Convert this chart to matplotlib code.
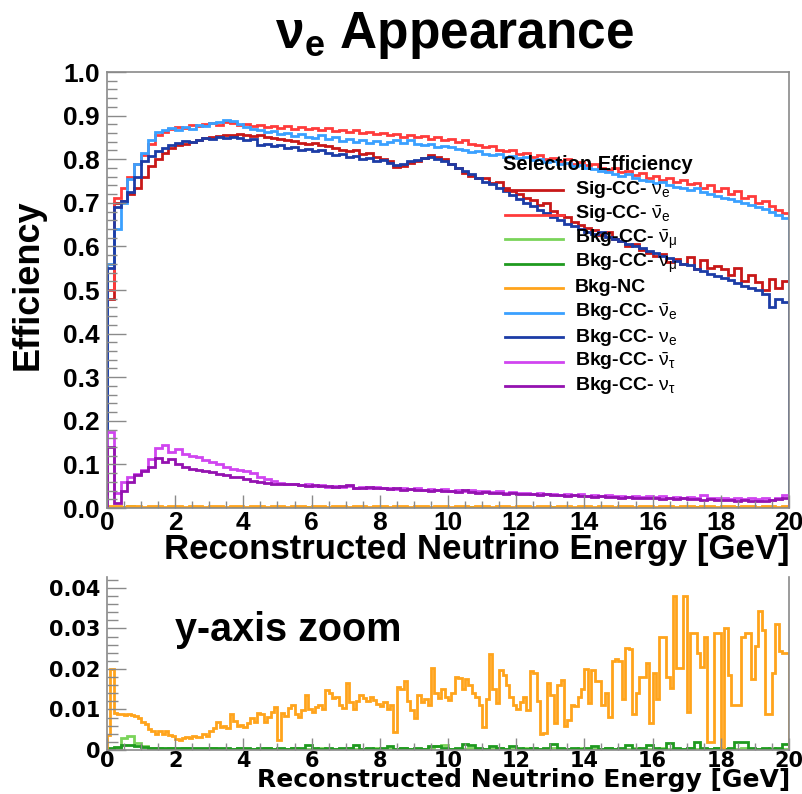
import numpy as np
import matplotlib
matplotlib.use('Agg')
import matplotlib.pyplot as plt
from matplotlib.lines import Line2D
from matplotlib.ticker import MultipleLocator, FormatStrFormatter, FuncFormatter

plt.rcParams['font.family'] = ['Liberation Sans', 'DejaVu Sans']
plt.rcParams['mathtext.fontset'] = 'custom'
plt.rcParams['mathtext.rm'] = 'Liberation Sans'
plt.rcParams['mathtext.it'] = 'Liberation Sans'
plt.rcParams['mathtext.bf'] = 'Liberation Sans:bold'

e_max = 20.0

# efficiency per 0.2 GeV bin, 0-20 GeV
sig_cc_nue = [
    0.480, 0.700, 0.705, 0.720, 0.735, 0.760, 0.785, 0.800, 0.815, 0.825,
    0.832, 0.836, 0.840, 0.843, 0.848, 0.850, 0.853, 0.856, 0.855, 0.858,
    0.855, 0.853, 0.856, 0.851, 0.849, 0.847, 0.845, 0.842, 0.838, 0.836,
    0.838, 0.832, 0.830, 0.826, 0.822, 0.818, 0.820, 0.812, 0.815, 0.805,
    0.800, 0.795, 0.782, 0.785, 0.792, 0.797, 0.803, 0.810, 0.804, 0.800,
    0.790, 0.780, 0.768, 0.762, 0.758, 0.756, 0.745, 0.748, 0.735, 0.728,
    0.720, 0.712, 0.706, 0.695, 0.700, 0.682, 0.672, 0.668, 0.655, 0.650,
    0.642, 0.638, 0.626, 0.632, 0.616, 0.612, 0.600, 0.605, 0.592, 0.585,
    0.578, 0.582, 0.565, 0.570, 0.560, 0.575, 0.548, 0.568, 0.550, 0.555,
    0.548, 0.535, 0.550, 0.520, 0.535, 0.518, 0.500, 0.525, 0.505, 0.520]

sig_cc_nuebar = [
    0.500, 0.710, 0.735, 0.760, 0.790, 0.810, 0.835, 0.855, 0.862, 0.870,
    0.875, 0.872, 0.878, 0.876, 0.880, 0.884, 0.879, 0.886, 0.882, 0.878,
    0.881, 0.876, 0.879, 0.873, 0.877, 0.872, 0.876, 0.870, 0.874, 0.869,
    0.872, 0.866, 0.871, 0.864, 0.868, 0.862, 0.866, 0.860, 0.863, 0.858,
    0.861, 0.855, 0.858, 0.852, 0.856, 0.850, 0.853, 0.847, 0.850, 0.843,
    0.846, 0.840, 0.843, 0.836, 0.833, 0.828, 0.830, 0.822, 0.818, 0.821,
    0.812, 0.815, 0.806, 0.809, 0.800, 0.803, 0.797, 0.800, 0.790, 0.793,
    0.786, 0.790, 0.780, 0.776, 0.779, 0.770, 0.774, 0.764, 0.768, 0.758,
    0.762, 0.752, 0.757, 0.748, 0.752, 0.742, 0.746, 0.735, 0.740, 0.728,
    0.733, 0.720, 0.726, 0.712, 0.716, 0.700, 0.705, 0.692, 0.684, 0.676]

bkg_cc_numubar = [
    0.0003, 0.0005, 0.0030, 0.0035, 0.0018, 0.0010, 0.0006, 0.0004, 0.0003, 0.0004,
    0.0003, 0.0004, 0.0003, 0.0002, 0.0003, 0.0004, 0.0003, 0.0002, 0.0003, 0.0004,
    0.0003, 0.0002, 0.0003, 0.0004, 0.0003, 0.0002, 0.0003, 0.0004, 0.0003, 0.0002,
    0.0003, 0.0004, 0.0003, 0.0002, 0.0003, 0.0004, 0.0003, 0.0002, 0.0003, 0.0004,
    0.0003, 0.0002, 0.0003, 0.0004, 0.0003, 0.0002, 0.0003, 0.0004, 0.0010, 0.0012,
    0.0003, 0.0002, 0.0003, 0.0004, 0.0003, 0.0002, 0.0003, 0.0004, 0.0003, 0.0002,
    0.0003, 0.0004, 0.0003, 0.0002, 0.0003, 0.0004, 0.0003, 0.0002, 0.0003, 0.0004,
    0.0003, 0.0002, 0.0003, 0.0004, 0.0003, 0.0002, 0.0003, 0.0004, 0.0003, 0.0002,
    0.0003, 0.0004, 0.0003, 0.0002, 0.0003, 0.0004, 0.0003, 0.0002, 0.0003, 0.0004,
    0.0003, 0.0002, 0.0003, 0.0004, 0.0003, 0.0002, 0.0003, 0.0004, 0.0003, 0.0002]

bkg_cc_numu = [
    0.0006, 0.0008, 0.0012, 0.0013, 0.0010, 0.0008, 0.0006, 0.0005, 0.0004, 0.0005,
    0.0004, 0.0005, 0.0004, 0.0005, 0.0004, 0.0004, 0.0005, 0.0004, 0.0003, 0.0004,
    0.0004, 0.0003, 0.0005, 0.0004, 0.0003, 0.0004, 0.0003, 0.0004, 0.0004, 0.0012,
    0.0004, 0.0003, 0.0004, 0.0003, 0.0004, 0.0004, 0.0012, 0.0003, 0.0004, 0.0003,
    0.0004, 0.0010, 0.0003, 0.0004, 0.0003, 0.0004, 0.0003, 0.0009, 0.0010, 0.0004,
    0.0003, 0.0004, 0.0014, 0.0013, 0.0004, 0.0003, 0.0011, 0.0004, 0.0003, 0.0010,
    0.0004, 0.0003, 0.0004, 0.0003, 0.0004, 0.0015, 0.0004, 0.0003, 0.0004, 0.0003,
    0.0004, 0.0011, 0.0003, 0.0004, 0.0003, 0.0004, 0.0012, 0.0003, 0.0004, 0.0013,
    0.0004, 0.0003, 0.0018, 0.0004, 0.0003, 0.0004, 0.0020, 0.0004, 0.0003, 0.0004,
    0.0003, 0.0004, 0.0020, 0.0019, 0.0004, 0.0003, 0.0004, 0.0003, 0.0004, 0.0015]

# NC as drawn in the main panel (sits on the axis there)
bkg_nc_main = [
    0.004, 0.004, 0.003, 0.004, 0.004, 0.003, 0.004, 0.004, 0.003, 0.004,
    0.004, 0.003, 0.004, 0.004, 0.003, 0.004, 0.004, 0.003, 0.004, 0.004,
    0.003, 0.004, 0.004, 0.003, 0.004, 0.004, 0.003, 0.004, 0.004, 0.003,
    0.004, 0.004, 0.003, 0.004, 0.004, 0.003, 0.004, 0.004, 0.003, 0.004,
    0.004, 0.003, 0.004, 0.004, 0.003, 0.004, 0.004, 0.003, 0.004, 0.004,
    0.003, 0.004, 0.004, 0.003, 0.004, 0.004, 0.003, 0.004, 0.004, 0.003,
    0.004, 0.004, 0.003, 0.004, 0.004, 0.003, 0.004, 0.004, 0.003, 0.004,
    0.004, 0.003, 0.004, 0.004, 0.003, 0.004, 0.004, 0.003, 0.004, 0.004,
    0.003, 0.004, 0.004, 0.003, 0.004, 0.004, 0.003, 0.004, 0.004, 0.003,
    0.004, 0.004, 0.003, 0.004, 0.004, 0.003, 0.004, 0.004, 0.003, 0.004]

# NC in the zoom panel, 0.1 GeV bins
bkg_nc = [
    0.0037, 0.0200, 0.0092, 0.0088, 0.0088, 0.0086, 0.0088, 0.0087, 0.0083, 0.0078,
    0.0070, 0.0064, 0.0052, 0.0048, 0.0040, 0.0046, 0.0040, 0.0047, 0.0036, 0.0034,
    0.0027, 0.0025, 0.0030, 0.0032, 0.0030, 0.0035, 0.0031, 0.0033, 0.0040, 0.0034,
    0.0046, 0.0055, 0.0070, 0.0056, 0.0060, 0.0055, 0.0088, 0.0072, 0.0060, 0.0062,
    0.0058, 0.0066, 0.0080, 0.0070, 0.0092, 0.0088, 0.0070, 0.0082, 0.0095, 0.0106,
    0.0025, 0.0092, 0.0085, 0.0104, 0.0112, 0.0090, 0.0082, 0.0098, 0.0135, 0.0100,
    0.0094, 0.0105, 0.0112, 0.0102, 0.0148, 0.0140, 0.0128, 0.0130, 0.0112, 0.0104,
    0.0165, 0.0118, 0.0100, 0.0122, 0.0135, 0.0128, 0.0120, 0.0132, 0.0124, 0.0114,
    0.0108, 0.0118, 0.0100, 0.0110, 0.0045, 0.0155, 0.0150, 0.0170, 0.0120, 0.0098,
    0.0080, 0.0136, 0.0118, 0.0125, 0.0110, 0.0202, 0.0140, 0.0128, 0.0150, 0.0132,
    0.0124, 0.0140, 0.0180, 0.0178, 0.0150, 0.0175, 0.0160, 0.0140, 0.0130, 0.0110,
    0.0058, 0.0125, 0.0238, 0.0150, 0.0115, 0.0198, 0.0185, 0.0160, 0.0130, 0.0112,
    0.0100, 0.0118, 0.0130, 0.0098, 0.0196, 0.0190, 0.0120, 0.0040, 0.0042, 0.0165,
    0.0135, 0.0066, 0.0160, 0.0172, 0.0060, 0.0075, 0.0112, 0.0108, 0.0130, 0.0150,
    0.0200, 0.0116, 0.0197, 0.0170, 0.0170, 0.0110, 0.0140, 0.0082, 0.0220, 0.0225,
    0.0220, 0.0126, 0.0252, 0.0250, 0.0090, 0.0140, 0.0180, 0.0180, 0.0215, 0.0066,
    0.0190, 0.0126, 0.0280, 0.0280, 0.0180, 0.0152, 0.0379, 0.0202, 0.0202, 0.0380,
    0.0095, 0.0290, 0.0290, 0.0240, 0.0205, 0.0280, 0.0020, 0.0020, 0.0290, 0.0290,
    0.0000, 0.0300, 0.0185, 0.0110, 0.0110, 0.0110, 0.0280, 0.0290, 0.0290, 0.0175,
    0.0257, 0.0342, 0.0295, 0.0090, 0.0090, 0.0190, 0.0310, 0.0245, 0.0240, 0.0240]

bkg_cc_nuebar = [
    0.560, 0.640, 0.700, 0.755, 0.790, 0.815, 0.845, 0.862, 0.868, 0.872,
    0.866, 0.874, 0.870, 0.878, 0.876, 0.882, 0.886, 0.890, 0.887, 0.880,
    0.874, 0.869, 0.866, 0.862, 0.864, 0.858, 0.861, 0.853, 0.857, 0.852,
    0.848, 0.855, 0.846, 0.850, 0.842, 0.847, 0.840, 0.845, 0.838, 0.842,
    0.835, 0.840, 0.844, 0.838, 0.843, 0.836, 0.832, 0.835, 0.828, 0.831,
    0.828, 0.824, 0.821, 0.816, 0.818, 0.812, 0.810, 0.813, 0.806, 0.808,
    0.802, 0.804, 0.798, 0.800, 0.794, 0.796, 0.790, 0.792, 0.785, 0.787,
    0.780, 0.777, 0.774, 0.770, 0.766, 0.762, 0.765, 0.757, 0.753, 0.749,
    0.745, 0.748, 0.740, 0.737, 0.733, 0.730, 0.733, 0.724, 0.720, 0.716,
    0.712, 0.708, 0.705, 0.700, 0.695, 0.690, 0.686, 0.680, 0.672, 0.665]

bkg_cc_nue = [
    0.550, 0.690, 0.705, 0.725, 0.760, 0.795, 0.808, 0.818, 0.826, 0.832,
    0.838, 0.842, 0.840, 0.845, 0.848, 0.846, 0.850, 0.848, 0.852, 0.849,
    0.845, 0.847, 0.832, 0.834, 0.830, 0.832, 0.826, 0.828, 0.822, 0.824,
    0.818, 0.820, 0.815, 0.810, 0.812, 0.806, 0.808, 0.800, 0.803, 0.797,
    0.799, 0.792, 0.786, 0.790, 0.795, 0.798, 0.802, 0.806, 0.800, 0.795,
    0.788, 0.780, 0.772, 0.765, 0.756, 0.748, 0.742, 0.735, 0.726, 0.718,
    0.708, 0.700, 0.692, 0.684, 0.676, 0.668, 0.660, 0.652, 0.646, 0.640,
    0.634, 0.628, 0.632, 0.622, 0.616, 0.612, 0.606, 0.602, 0.596, 0.590,
    0.585, 0.578, 0.573, 0.566, 0.560, 0.558, 0.549, 0.543, 0.537, 0.532,
    0.527, 0.522, 0.515, 0.510, 0.505, 0.500, 0.490, 0.462, 0.480, 0.472]

bkg_cc_nutaubar = [
    0.175, 0.035, 0.060, 0.070, 0.078, 0.088, 0.112, 0.138, 0.145, 0.128,
    0.135, 0.125, 0.120, 0.116, 0.110, 0.105, 0.100, 0.094, 0.090, 0.088,
    0.085, 0.080, 0.072, 0.066, 0.062, 0.058, 0.056, 0.054, 0.052, 0.054,
    0.050, 0.052, 0.049, 0.051, 0.048, 0.050, 0.047, 0.049, 0.046, 0.048,
    0.045, 0.047, 0.044, 0.046, 0.043, 0.045, 0.042, 0.044, 0.041, 0.043,
    0.040, 0.042, 0.039, 0.041, 0.038, 0.039, 0.036, 0.038, 0.035, 0.036,
    0.034, 0.035, 0.032, 0.034, 0.031, 0.033, 0.030, 0.032, 0.029, 0.031,
    0.028, 0.030, 0.027, 0.029, 0.027, 0.028, 0.026, 0.028, 0.025, 0.027,
    0.025, 0.027, 0.024, 0.026, 0.024, 0.025, 0.023, 0.030, 0.024, 0.022,
    0.024, 0.021, 0.023, 0.020, 0.022, 0.020, 0.022, 0.019, 0.024, 0.030]

bkg_cc_nutau = [
    0.140, 0.012, 0.040, 0.060, 0.075, 0.085, 0.095, 0.115, 0.105, 0.112,
    0.100, 0.095, 0.090, 0.088, 0.085, 0.083, 0.078, 0.076, 0.072, 0.070,
    0.066, 0.062, 0.060, 0.058, 0.056, 0.055, 0.054, 0.056, 0.053, 0.051,
    0.052, 0.050, 0.051, 0.048, 0.050, 0.053, 0.047, 0.046, 0.048, 0.045,
    0.046, 0.043, 0.045, 0.042, 0.044, 0.041, 0.042, 0.040, 0.041, 0.038,
    0.039, 0.037, 0.041, 0.036, 0.035, 0.036, 0.034, 0.035, 0.033, 0.034,
    0.032, 0.033, 0.031, 0.030, 0.031, 0.029, 0.030, 0.028, 0.029, 0.027,
    0.028, 0.026, 0.027, 0.025, 0.026, 0.024, 0.025, 0.023, 0.024, 0.022,
    0.023, 0.021, 0.022, 0.020, 0.022, 0.020, 0.021, 0.019, 0.020, 0.018,
    0.019, 0.018, 0.017, 0.018, 0.016, 0.017, 0.016, 0.018, 0.020, 0.022]

labels = ['Sig-CC- $\\nu_{e}$', 'Sig-CC- $\\bar{\\nu}_{e}$',
          'Bkg-CC- $\\bar{\\nu}_{\\mu}$', 'Bkg-CC- $\\nu_{\\mu}$', 'Bkg-NC',
          'Bkg-CC- $\\bar{\\nu}_{e}$', 'Bkg-CC- $\\nu_{e}$',
          'Bkg-CC- $\\bar{\\nu}_{\\tau}$', 'Bkg-CC- $\\nu_{\\tau}$']
colors = ['#c81818', '#ff3b3b', '#7ad45a', '#1f9a1f', '#ffa41c',
          '#3aa0ff', '#1c3ca6', '#d045f0', '#9412b0']
series = [sig_cc_nue, sig_cc_nuebar, bkg_cc_numubar, bkg_cc_numu, bkg_nc_main,
          bkg_cc_nuebar, bkg_cc_nue, bkg_cc_nutaubar, bkg_cc_nutau]

W, H = 803, 794
fig = plt.figure(figsize=(W / 100, H / 100), dpi=100)
frame_col = '#8a8a8a'


def px(x0, y0, x1, y1):
    return [x0 / W, 1 - y1 / H, (x1 - x0) / W, (y1 - y0) / H]


# ---- main panel
ax = fig.add_axes(px(107, 72, 789, 508))
for vals, col in zip(series, colors):
    edges = np.linspace(0, e_max, len(vals) + 1)
    ax.stairs(vals, edges, color=col, lw=2.0)
ax.set_xlim(0, e_max)
ax.set_ylim(0, 1.0)
ax.xaxis.set_major_locator(MultipleLocator(2))
ax.xaxis.set_minor_locator(MultipleLocator(0.5))
ax.yaxis.set_major_locator(MultipleLocator(0.1))
ax.yaxis.set_minor_locator(MultipleLocator(0.02))
ax.yaxis.set_major_formatter(FormatStrFormatter('%.1f'))
ax.xaxis.set_major_formatter(FormatStrFormatter('%d'))
ax.tick_params(axis='y', which='major', direction='in', length=14, width=1,
               color=frame_col, labelsize=19, pad=5)
ax.tick_params(axis='y', which='minor', direction='in', length=7, width=1,
               color=frame_col)
ax.tick_params(axis='x', which='major', direction='in', length=9.5, width=1,
               color=frame_col, labelsize=19, pad=2)
ax.tick_params(axis='x', which='minor', direction='in', length=5, width=1,
               color=frame_col)
for lab in ax.get_xticklabels() + ax.get_yticklabels():
    lab.set_fontweight('bold')
for sp in ax.spines.values():
    sp.set_color(frame_col)
    sp.set_linewidth(1.2)

# legend
fig.text(503 / W, 1 - 165 / H, 'Selection Efficiency', fontsize=14.5,
         fontweight='bold', ha='left', va='center')
for i, (lab, col) in enumerate(zip(labels, colors)):
    yy = 1 - (190 + i * 24.5) / H
    fig.add_artist(Line2D([505 / W, 563 / W], [yy, yy], color=col, lw=2.0))
    fig.text(575 / W, yy, lab, fontsize=14, fontweight='bold',
             ha='left', va='center')

# ---- zoom panel
bx = fig.add_axes(px(107, 577, 789, 750))
for vals, col in [(bkg_cc_numubar, colors[2]), (bkg_cc_numu, colors[3]),
                  (bkg_nc, colors[4])]:
    edges = np.linspace(0, e_max, len(vals) + 1)
    bx.stairs(vals, edges, color=col, lw=2.0)
bx.set_xlim(0, e_max)
bx.set_ylim(0, 0.0427)
bx.xaxis.set_major_locator(MultipleLocator(2))
bx.xaxis.set_minor_locator(MultipleLocator(0.5))
bx.yaxis.set_major_locator(MultipleLocator(0.01))
bx.yaxis.set_minor_locator(MultipleLocator(0.002))
bx.xaxis.set_major_formatter(FormatStrFormatter('%d'))
bx.yaxis.set_major_formatter(FuncFormatter(lambda v, p: '0' if abs(v) < 1e-9 else '%.2f' % v))
bx.tick_params(axis='y', which='major', direction='in', length=14, width=1,
               color=frame_col, labelsize=15, pad=5)
bx.tick_params(axis='y', which='minor', direction='in', length=8, width=1,
               color=frame_col)
bx.tick_params(axis='x', which='major', direction='in', length=9, width=1,
               color=frame_col, labelsize=15, pad=1)
bx.tick_params(axis='x', which='minor', direction='in', length=5, width=1,
               color=frame_col)
for lab in bx.get_xticklabels() + bx.get_yticklabels():
    lab.set_fontweight('bold')
    lab.set_family('DejaVu Sans')
for sp in bx.spines.values():
    sp.set_color(frame_col)
    sp.set_linewidth(1.2)
bx.spines['top'].set_visible(False)

# ---- texts
fig.text(455 / W, 1 - 48 / H, r'$\mathbf{\nu_{e}}$ Appearance', fontsize=37,
         fontweight='bold', ha='center', va='baseline')
fig.text(28 / W, 1 - 285 / H, 'Efficiency', fontsize=26, fontweight='bold',
         rotation=90, ha='center', va='center')
fig.text(790 / W, 1 - 549 / H, 'Reconstructed Neutrino Energy [GeV]',
         fontsize=25, fontweight='bold', ha='right', va='center')
fig.text(790 / W, 1 - 780 / H, 'Reconstructed Neutrino Energy [GeV]',
         fontsize=18, fontweight='bold', family='DejaVu Sans',
         ha='right', va='center')
fig.text(175 / W, 1 - 630 / H, 'y-axis zoom', fontsize=28.5, fontweight='bold',
         ha='left', va='center')

fig.savefig('out.png', dpi=100, facecolor='white')
